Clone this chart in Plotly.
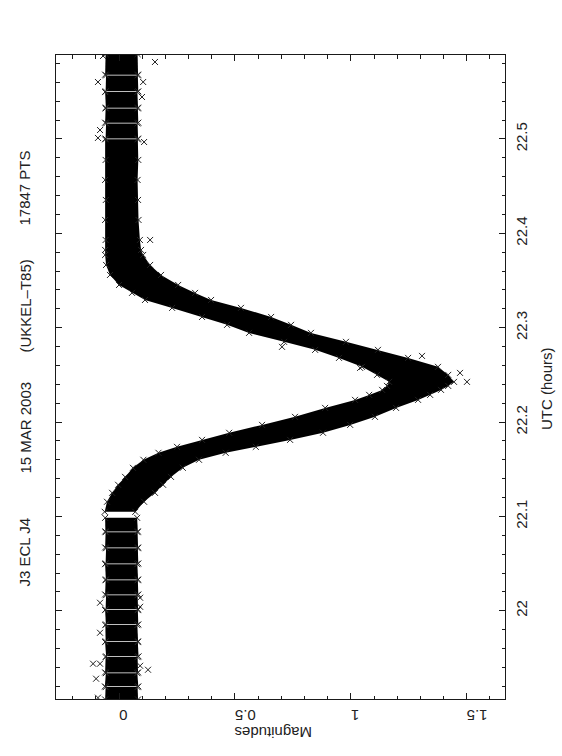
import plotly.graph_objects as go

# ---------------- data ----------------
# Envelope of the dense cloud of points: UTC time (hours), left/right magnitude edge.
# None separates blocks of data (gaps in the time series).
band_time = [
    21.9060, 21.9191, None, 21.9199, 21.9339, None, 21.9347, 21.9509, None, 21.9517,
    21.9668, None, 21.9676, 21.9848, None, 21.9856, 22.0007, None, 22.0015, 22.0165,
    None, 22.0173, 22.0324, None, 22.0332, 22.0494, None, 22.0502, 22.0663, None,
    22.0671, 22.0833, None, 22.0841, 22.0985, None,
    22.1049, 22.1155, 22.1250, 22.1335, 22.1419, 22.1515, 22.1600, 22.1674, 22.1737,
    22.1811, 22.1886, 22.1970, 22.2055, 22.2150, 22.2235, 22.2288, 22.2341, 22.2383,
    22.2426, 22.2500, 22.2585, 22.2680, 22.2765, 22.2850, 22.2945, 22.3030, 22.3114,
    22.3210, 22.3294, 22.3369, 22.3453, 22.3559, 22.3665, 22.3771, 22.3824, 22.3930,
    22.4142, 22.4354, 22.4566, 22.4778, 22.4996, None, 22.5004, 22.5165, None, 22.5173,
    22.5324, None, 22.5332, 22.5497, None, 22.5505, 22.5674, None, 22.5682, 22.5900,
]
band_left = [
    -0.060, -0.058, None, -0.061, -0.057, None, -0.060, -0.058, None, -0.056,
    -0.060, None, -0.058, -0.059, None, -0.057, -0.060, None, -0.058, -0.056,
    None, -0.060, -0.058, None, -0.057, -0.060, None, -0.058, -0.056, None,
    -0.060, -0.058, None, -0.059, -0.060, None,
    -0.062, -0.052, -0.030, -0.004, 0.026, 0.060, 0.105, 0.170, 0.250,
    0.358, 0.475, 0.617, 0.759, 0.889, 1.018, 1.079, 1.135, 1.156,
    1.165, 1.113, 1.048, 0.949, 0.846, 0.712, 0.561, 0.466, 0.358,
    0.229, 0.112, 0.056, 0.000, -0.039, -0.056, -0.060, -0.060, -0.058,
    -0.060, -0.057, -0.060, -0.058, -0.060, None, -0.058, -0.056, None, -0.060,
    -0.058, None, -0.057, -0.060, None, -0.058, -0.056, None, -0.060, -0.058,
]
band_right = [
    0.082, 0.080, None, 0.083, 0.079, None, 0.082, 0.080, None, 0.084,
    0.081, None, 0.082, 0.079, None, 0.083, 0.081, None, 0.082, 0.080,
    None, 0.083, 0.081, None, 0.082, 0.079, None, 0.083, 0.081, None,
    0.082, 0.080, None, 0.081, 0.078, None,
    0.070, 0.108, 0.155, 0.190, 0.224, 0.275, 0.345, 0.460, 0.590,
    0.738, 0.880, 0.997, 1.104, 1.195, 1.290, 1.342, 1.389, 1.420,
    1.445, 1.420, 1.376, 1.247, 1.117, 0.979, 0.828, 0.742, 0.656,
    0.526, 0.397, 0.328, 0.255, 0.181, 0.134, 0.104, 0.095, 0.090,
    0.084, 0.082, 0.080, 0.083, 0.081, None, 0.082, 0.080, None, 0.083,
    0.081, None, 0.082, 0.079, None, 0.083, 0.081, None, 0.082, 0.080,
]

# Isolated points outside the dense cloud
outlier_time = [
    22.5880, 22.5604, 22.5604, 22.5445, 22.5816, 22.5095, 22.5011, 22.4968,
    22.0138, 22.0085, 22.0042, 21.9767, 21.9439, 21.9439, 21.9417, 21.9375,
    21.9280, 21.9079, 22.2701, 22.2521, 22.2426, 22.2574, 22.2797, 22.3930,
]
outlier_mag = [
    -0.069, -0.091, 0.104, 0.099, 0.155, -0.082, -0.091, 0.108,
    0.091, -0.082, 0.091, -0.082, -0.112, -0.082, 0.091, 0.125,
    -0.099, -0.091, 1.307, 1.471, 1.501, 1.040, 0.703, 0.134,
]

mag_ticks = [0, 0.5, 1, 1.5]
mag_tick_labels = ["0", "0.5", "1", "1.5"]
utc_ticks = [22.0, 22.1, 22.2, 22.3, 22.4, 22.5]
utc_tick_labels = ["22", "22.1", "22.2", "22.3", "22.4", "22.5"]
title_parts = ["J3 ECL J4", "15 MAR 2003", "(UKKEL\u2013T85)", "17847 PTS"]
mag_label = "Magnitudes"
utc_label = "UTC (hours)"

# ---------------- figure ----------------
FONT = "Liberation Sans"
INK = "#1a1a1a"
TXT = "#222222"

fig = go.Figure()

# split envelope into blocks
blocks = []
cur = []
for t, l, r in zip(band_time, band_left, band_right):
    if t is None:
        if cur:
            blocks.append(cur)
        cur = []
    else:
        cur.append((t, l, r))
if cur:
    blocks.append(cur)

edge_t, edge_m = [], []
for blk in blocks:
    ts = [b[0] for b in blk]
    ls = [b[1] for b in blk]
    rs = [b[2] for b in blk]
    fig.add_trace(go.Scatter(
        x=ls + rs[::-1], y=ts + ts[::-1], mode="lines", fill="toself",
        fillcolor="black", line=dict(color="black", width=0),
        hoverinfo="skip", showlegend=False))
    edge_t += ts + ts
    edge_m += ls + rs

fig.add_trace(go.Scatter(
    x=edge_m, y=edge_t, mode="markers",
    marker=dict(symbol="x-thin", size=6, line=dict(color="#222222", width=1)),
    showlegend=False, hoverinfo="skip"))

fig.add_trace(go.Scatter(
    x=outlier_mag, y=outlier_time, mode="markers",
    marker=dict(symbol="x-thin", size=6, line=dict(color="#222222", width=1)),
    showlegend=False))

axis_common = dict(
    showgrid=False, zeroline=False, showline=True, linecolor=INK, linewidth=1,
    mirror="allticks", ticks="inside", ticklen=6, tickcolor=INK, tickwidth=1,
    tickfont=dict(family=FONT, size=15, color=TXT),
)

fig.update_layout(
    width=562, height=756,
    margin=dict(l=56, r=57, t=55, b=57),
    paper_bgcolor="white", plot_bgcolor="white",
    xaxis=dict(
        range=[-0.272, 1.665], tickvals=mag_ticks, ticktext=mag_tick_labels,
        tickangle=180, ticklabelstandoff=7,
        minor=dict(ticks="inside", ticklen=3.5, dtick=0.1, tick0=0,
                   tickcolor=INK, showgrid=False),
        **axis_common),
    yaxis=dict(
        range=[21.9065, 22.589], side="right", tickvals=utc_ticks,
        ticktext=utc_tick_labels, tickangle=-90, ticklabelstandoff=3,
        minor=dict(ticks="inside", ticklen=3.5, dtick=0.02, tick0=22,
                   tickcolor=INK, showgrid=False),
        **axis_common),
    showlegend=False,
)

annots = [
    dict(text=mag_label, x=0.4833, y=-0.0528, textangle=180),
    dict(text=utc_label, x=1.0913, y=0.4829, textangle=-90),
]
title_y = [0.2283, 0.4208, 0.6102, 0.7935]
for txt, yy in zip(title_parts, title_y):
    annots.append(dict(text=txt, x=-0.070, y=yy, textangle=-90))
for a in annots:
    fig.add_annotation(xref="paper", yref="paper", showarrow=False,
                       xanchor="center", yanchor="middle",
                       font=dict(family=FONT, size=15, color=TXT), **a)

fig.write_html("out.html",
               config={"displayModeBar": False},
               post_script="document.body.style.margin='0';"
                           "document.body.style.overflow='hidden';")
